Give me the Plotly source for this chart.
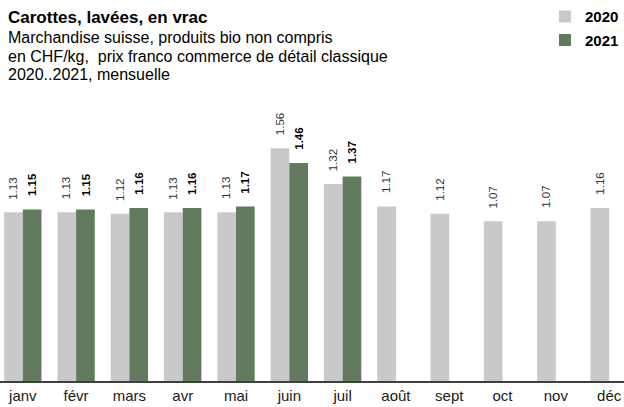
import plotly.graph_objects as go

# monthly prices, CHF/kg
months = ["janv", "févr", "mars", "avr", "mai", "juin", "juil",
          "août", "sept", "oct", "nov", "déc"]
prix_2020 = [1.13, 1.13, 1.12, 1.13, 1.13, 1.56, 1.32, 1.17, 1.12, 1.07, 1.07, 1.16]
prix_2021 = [1.15, 1.15, 1.16, 1.16, 1.17, 1.46, 1.37, None, None, None, None, None]

gris = "#C8C9CA"
vert = "#627A5E"
font_family = "Liberation Sans, Arial, sans-serif"

x = list(range(len(months)))

fig = go.Figure()

fig.add_trace(
    go.Bar(
        x=x,
        y=prix_2020,
        name="<b>2020</b>",
        legendgroup="a",
        marker=dict(color=gris, line=dict(width=0)),
    )
)
fig.add_trace(
    go.Bar(
        x=x,
        y=prix_2021,
        name="<b>2021</b>",
        legendgroup="b",
        marker=dict(color=vert, line=dict(width=0)),
    )
)

# value labels above bars (rotated)
half = 0.175
annotations = []
for i, v in enumerate(prix_2020):
    annotations.append(dict(
        x=i - half, y=v, xref="x", yref="y",
        text=f"{v:.2f}", textangle=-90, showarrow=False,
        xanchor="center", yanchor="bottom", yshift=11,
        font=dict(size=11.5, color="#333333", family=font_family),
    ))
for i, v in enumerate(prix_2021):
    if v is None:
        continue
    annotations.append(dict(
        x=i + half, y=v, xref="x", yref="y",
        text=f"<b>{v:.2f}</b>", textangle=-90, showarrow=False,
        xanchor="center", yanchor="bottom", yshift=11,
        font=dict(size=11.5, color="#000000", family=font_family),
    ))

# title block
top = 100
plot_h = 281


def py(pix):
    return (407 - 26 - pix) / plot_h


annotations.append(dict(
    x=6 / 624, y=py(15), xref="paper", yref="paper",
    text="<b>Carottes, lavées, en vrac</b>", showarrow=False,
    xanchor="left", yanchor="middle",
    font=dict(size=17, color="#000000", family=font_family),
))
sous_titre = [
    "Marchandise suisse, produits bio non compris",
    "en CHF/kg,  prix franco commerce de détail classique",
    "2020..2021, mensuelle",
]
for k, ligne in enumerate(sous_titre):
    annotations.append(dict(
        x=6 / 624, y=py(35 + 18.7 * k), xref="paper", yref="paper",
        text=ligne, showarrow=False,
        xanchor="left", yanchor="middle",
        font=dict(size=16, color="#000000", family=font_family),
    ))

fig.update_layout(
    width=624,
    height=407,
    margin=dict(l=0, r=0, t=top, b=26),
    paper_bgcolor="white",
    plot_bgcolor="white",
    barmode="group",
    bargap=0.3,
    bargroupgap=0,
    font=dict(family=font_family, color="#000000"),
    showlegend=True,
    legend=dict(
        x=1, xanchor="right", y=1.365, yanchor="top",
        font=dict(size=15, color="#000000", family=font_family),
        traceorder="grouped", tracegroupgap=1,
        itemwidth=30, bgcolor="rgba(0,0,0,0)",
    ),
    xaxis=dict(
        range=[-0.428, 11.279],
        tickvals=x,
        ticktext=months,
        showgrid=False,
        zeroline=False,
        showline=True,
        linecolor="#404040",
        linewidth=1.5,
        ticks="",
        tickfont=dict(size=15, color="#1a1a1a", family=font_family),
        fixedrange=True,
    ),
    yaxis=dict(
        range=[0, plot_h / 150.3],
        visible=False,
        showgrid=False,
        zeroline=False,
        fixedrange=True,
    ),
    annotations=annotations,
)

fig.write_html(
    "out.html",
    config={"displayModeBar": False},
    post_script="document.body.style.margin='0';document.body.style.overflow='hidden';",
)
